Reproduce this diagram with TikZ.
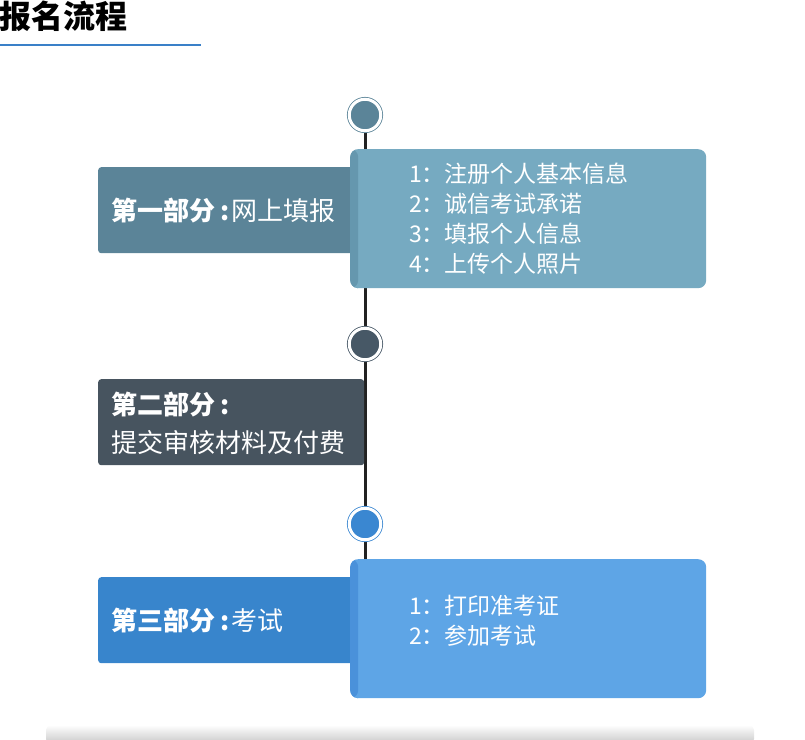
\documentclass[tikz,border=0pt]{standalone}
\usepackage{fontspec}
\setmainfont{Noto Sans CJK SC}
\usetikzlibrary{positioning, backgrounds}

\definecolor{slateA}{HTML}{5B8498}
\definecolor{slateL}{HTML}{76AAC1}
\definecolor{slateS}{HTML}{6597AE}
\definecolor{greyB}{HTML}{47545F}
\definecolor{greyC}{HTML}{475866}
\definecolor{blueA}{HTML}{3885CC}
\definecolor{blueL}{HTML}{5EA5E6}
\definecolor{blueS}{HTML}{4A91DA}
\definecolor{blueC}{HTML}{3A87D1}
\definecolor{rule}{HTML}{3A80C8}
\definecolor{spine}{HTML}{222222}

\begin{document}
\begin{tikzpicture}[x=1pt, y=-1pt,
    leftbox/.style={rectangle, rounded corners=3pt, anchor=north west, minimum width=265pt, minimum height=86pt, inner sep=0pt},
    rightbox/.style 2 args={rectangle, rounded corners=8pt, anchor=north west, minimum width=356pt, minimum height=139pt, inner sep=0pt, fill=#1,
        path picture={\fill[#2] (path picture bounding box.south west) rectangle ([xshift=8pt]path picture bounding box.north west);}},
    dot/.style={circle, fill=#1, draw=#1, double=white, double distance=3pt, line width=0.8pt, minimum size=31.5pt, inner sep=0pt},
    head/.style={anchor=west, inner sep=0pt, text=white, align=left, font=\fontsize{26}{38}\selectfont},
    item/.style={anchor=west, inner sep=0pt, text=white, align=left, font=\fontsize{23}{30}\selectfont}]
    \useasboundingbox (0,0) rectangle (805,739);

    \node [anchor=base west, inner sep=0pt, font=\fontsize{32}{32}\selectfont\bfseries] (title) at (-1,28) {报名流程};
    \draw [rule, line width=2pt] (0,45) -- (201,45);

    \node [dot=slateA] (c1) at (365,115) {};
    \node [dot=greyC] (c2) at (365,344) {};
    \node [dot=blueC] (c3) at (365,524) {};

    \node [leftbox, fill=slateA] (p1) at (98,167) {};
    \node [rightbox={slateL}{slateS}] (r1) at (350,149) {};
    \node [leftbox, fill=greyB, minimum width=266pt] (p2) at (98,379) {};
    \node [leftbox, fill=blueA] (p3) at (98,577) {};
    \node [rightbox={blueL}{blueS}] (r3) at (350,559) {};

    \node [head] (h1) at (111,211) {\textbf{第一部分\hspace{0.22em}:}\hspace{0.05em}网上填报};
    \node [head] (h2) at (111,423) {\textbf{第二部分\hspace{0.22em}:}\\提交审核材料及付费};
    \node [head] (h3) at (111,621) {\textbf{第三部分\hspace{0.22em}:}\hspace{0.05em}考试};

    \node [item] (l1) at (409,219) {1：注册个人基本信息\\2：诚信考试承诺\\3：填报个人信息\\4：上传个人照片};
    \node [item] (l3) at (409,621) {1：打印准考证\\2：参加考试};

    % timeline behind the boxes
    \begin{scope}[on background layer]
        \draw [spine, line width=3pt] (c1) -- (c2) -- (c3) -- (c3 |- r3.north);
        \shade [top color=white, bottom color=black!22, rounded corners=5pt] (46,725) rectangle (754,744);
    \end{scope}
\end{tikzpicture}
\end{document}
